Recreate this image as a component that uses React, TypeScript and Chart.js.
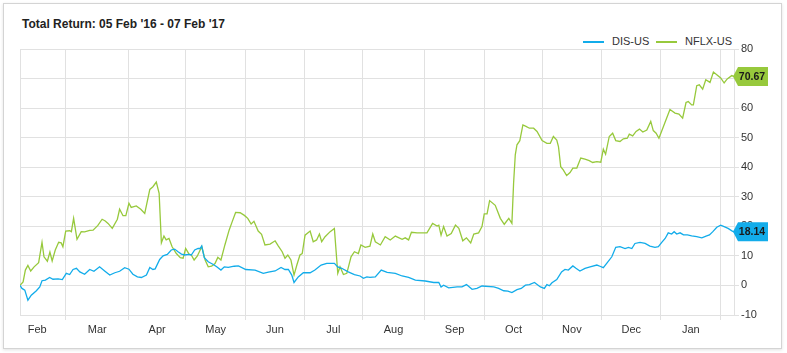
import React, { useEffect, useRef } from "react";
import { Chart, registerables } from "chart.js";

Chart.register(...registerables);

// ---- DATA (x = trading-day index from 05 Feb '16, y = total return %) ----
const SERIES_NAMES = ["DIS-US", "NFLX-US"];
const TITLE = "Total Return: 05 Feb '16 - 07 Feb '17";
const X_MAX = 253;
const MONTH_LABELS = ["Feb", "Mar", "Apr", "May", "Jun", "Jul", "Aug", "Sep", "Oct", "Nov", "Dec", "Jan"];
// month start positions (trading-day index); first one is Feb 1 '16 (before range), last one Feb 1 '17
const MONTH_STARTS = [-4, 16.2, 38.5, 58.7, 80.0, 100.7, 121.4, 143.3, 164.7, 185.0, 206.1, 227.1, 248.3];
const Y_MIN = -10;
const Y_MAX = 80;
const Y_STEP = 10;

const DIS: [number, number][] = [
  [0, 0], [0.7, -1], [1.7, -1.6], [2.8, -5], [4.0, -3.3], [5.8, -1.8], [7.0, -0.5], [7.8, 1.6], [9.0, 1.8],
  [10.5, 2.7], [11.7, 2.1], [13.5, 2.2], [15.0, 2], [16.4, 4.1], [17.6, 3.7], [18.8, 5.4], [20.0, 5.8],
  [21.2, 4.6], [22.9, 3.8], [24.7, 5.4], [26.2, 4.8], [28.2, 6.3], [30.0, 4.9], [31.8, 3.5], [33.6, 4.3],
  [35.3, 4.8], [37.1, 6], [38.6, 5.5], [40.0, 3.8], [41.6, 2.9], [43.0, 2.7], [44.8, 3.5], [46.0, 6.1],
  [47.1, 5.4], [47.9, 5.6], [49.5, 8.8], [50.7, 10], [52.2, 10.5], [53.6, 12], [54.8, 12.3], [56.0, 11.4],
  [57.2, 10.6], [58.4, 10.3], [59.8, 10.5], [60.7, 10.3], [61.9, 12], [63.1, 12.5], [63.8, 12.5], [64.4, 13.4],
  [65.3, 9.4], [66.7, 8], [68.5, 7.1], [69.7, 6.3], [71.2, 5.2], [72.4, 6.3], [73.8, 6.1], [75.9, 6.5],
  [77.4, 6.6], [80.0, 5.4], [83.3, 5.2], [86.2, 4.1], [88.0, 4.5], [90.4, 4.9], [92.5, 6.1], [93.9, 5.4],
  [95.1, 5.4], [96.3, 3.5], [97.1, 1], [98.6, 2.9], [100.4, 4.3], [102.8, 4.3], [104.5, 5.2], [106.7, 6.9],
  [108.7, 7.5], [111.4, 7.5], [112.6, 6.3], [114.0, 5.8], [116.3, 4.6], [118.5, 3.7], [120.5, 3.2],
  [121.7, 2.4], [122.9, 2.9], [124.0, 2.7], [125.9, 2.9], [128.0, 5.2], [130.1, 4.4], [133.0, 4.1],
  [135.4, 3.2], [137.7, 2.7], [140.1, 1.8], [143.6, 1.5], [146.6, 1], [148.4, 1], [149.2, -0.5], [150.1, 0.1],
  [151.9, -0.8], [154.9, -0.5], [156.6, -0.5], [158.2, 0.3], [160.2, -1.3], [161.9, -1], [163.7, -0.2],
  [167.9, -0.5], [169.6, -1], [171.4, -1.8], [172.9, -1.9], [174.3, -2.4], [176.1, -1.4], [177.6, -1],
  [179.1, 0.1], [180.5, 0.3], [182.3, 1], [184.4, -0.5], [185.8, -1], [186.7, 0.3], [187.6, -0.1],
  [188.5, 0.9], [190.2, 2], [191.9, 4.6], [193.1, 5.4], [194.3, 5.2], [195.9, 6.6], [197.0, 5.8],
  [198.4, 4.9], [200.2, 5.8], [202.0, 6.3], [204.4, 6.9], [205.5, 6.5], [206.7, 6], [208.1, 7.7],
  [209.7, 9.7], [211.1, 12.9], [212.6, 13.1], [214.4, 12.5], [215.6, 12.9], [216.8, 12.5], [217.9, 14.2],
  [219.7, 14.6], [221.5, 14.2], [223.2, 13.3], [225.0, 12.9], [226.2, 13.1], [227.4, 14.6], [228.6, 15.9],
  [229.7, 17.8], [230.9, 17.4], [231.8, 18.2], [232.7, 17.4], [233.9, 17.8], [235.1, 17.1], [236.5, 17.1],
  [238.0, 16.8], [239.8, 16.5], [241.6, 16.1], [243.1, 16.7], [244.3, 17.1], [245.5, 18.2], [246.9, 19.7],
  [248.3, 20.4], [249.5, 19.9], [250.9, 19.3], [252.4, 18.4], [253, 18.14],
];

const NFLX: [number, number][] = [
  [0, 0], [1.1, 1.2], [1.9, 5.2], [2.8, 6.8], [3.8, 4.9], [5.0, 6.3], [6.6, 7.7], [7.8, 14.6], [8.5, 9.7],
  [9.7, 8.2], [10.6, 11.3], [11.4, 8.3], [12.5, 12], [13.7, 14.6], [14.6, 14.4], [15.2, 13.1], [16.2, 18.4],
  [17.6, 18.5], [18.2, 18.2], [19.0, 22.7], [20.2, 15.6], [21.7, 18.2], [22.9, 18.1], [24.7, 18.6],
  [25.9, 18.7], [27.6, 20.3], [29.1, 22.4], [30.2, 21.8], [31.2, 21], [32.7, 19.3], [34.5, 22.4],
  [35.3, 25.8], [36.5, 23.6], [37.5, 23.6], [38.6, 27.8], [39.4, 26.4], [41.2, 26.9], [42.8, 25.8],
  [44.2, 24.4], [46.0, 32.5], [47.1, 33.4], [48.3, 35], [49.3, 31.2], [50.1, 14.4], [51.0, 16.7],
  [51.8, 15.4], [52.8, 15.9], [53.9, 13.1], [55.4, 10.8], [56.8, 9.4], [57.8, 9.2], [58.7, 12.5],
  [59.9, 10.6], [60.7, 10.3], [61.7, 8.6], [62.8, 9.9], [64.4, 13.1], [65.6, 8.6], [66.7, 6.3], [67.9, 6.5],
  [69.1, 7.4], [70.1, 9.5], [71.2, 8.6], [72.6, 13.7], [74.1, 18.7], [75.2, 21.6], [76.4, 24.7], [78.0, 24.6],
  [79.5, 23.7], [80.7, 22.7], [81.9, 20.8], [82.9, 21.7], [84.4, 18.4], [85.6, 17.3], [86.8, 13.7],
  [88.6, 14], [90.4, 15.1], [91.5, 13.4], [92.9, 11.4], [93.9, 9.2], [94.9, 10.3], [96.0, 8.6], [97.1, 3.5],
  [98.1, 6.9], [99.2, 10.3], [100.0, 10.8], [101.0, 17], [102.8, 18.4], [103.9, 14.8], [105.1, 15.4],
  [106.1, 17.4], [106.9, 14.8], [108.1, 16.5], [109.9, 18.2], [111.4, 19.3], [112.6, 4.1], [113.4, 6.3],
  [114.6, 3.7], [115.8, 4.1], [117.3, 9.7], [118.5, 11.4], [119.9, 10.8], [120.8, 13.7], [122.3, 12.9],
  [124.0, 13.3], [125.0, 17.4], [125.9, 14.8], [127.7, 13.7], [129.4, 16.5], [131.2, 15.4], [133.0, 16.7],
  [135.4, 15.6], [136.5, 16.1], [137.7, 15.4], [138.7, 18], [140.7, 17.8], [144.2, 17.8], [146.2, 21],
  [147.8, 20.1], [148.4, 20.4], [149.2, 17], [150.1, 19.9], [151.3, 16.7], [152.8, 17.6], [154.3, 20.4],
  [155.5, 19.3], [156.9, 15.1], [158.2, 16.1], [159.7, 14.4], [160.8, 17.4], [162.5, 17.8], [163.7, 19.9],
  [164.5, 24.2], [165.5, 24.2], [166.4, 28.7], [168.4, 27.1], [170.2, 22.7], [171.6, 20.7], [173.2, 22.7],
  [174.3, 21], [174.9, 34.6], [175.5, 44.2], [176.1, 47.6], [177.1, 49], [178.2, 54.3], [179.3, 53.8],
  [180.5, 53.2], [182.0, 53.2], [183.2, 52.1], [185.0, 49], [186.7, 48.1], [187.9, 48.1], [189.0, 50.4],
  [190.2, 49.2], [190.8, 47], [191.6, 40.2], [192.5, 39.1], [193.7, 37.2], [194.9, 38.2], [195.9, 39.7],
  [197.3, 39.7], [198.7, 43.1], [200.2, 42.7], [201.7, 42.2], [202.9, 41.6], [204.4, 41.9], [205.8, 41.7],
  [206.7, 46.1], [207.5, 44.4], [208.8, 50.4], [210.0, 51.5], [211.1, 49], [212.6, 48.7], [213.8, 49.6],
  [215.2, 49.8], [215.9, 51.2], [217.1, 50.6], [218.3, 52.1], [219.5, 52.9], [220.7, 51.9], [222.1, 52.6],
  [223.5, 55.5], [224.4, 52.4], [225.4, 51.5], [226.4, 49.8], [228.0, 53.8], [230.3, 59.5], [232.1, 58.3],
  [233.5, 58], [234.8, 56.6], [236.0, 61.9], [236.8, 62.2], [238.0, 61.1], [238.6, 61.1], [239.8, 67.6],
  [240.7, 67.9], [241.9, 66.4], [243.0, 69.6], [244.5, 68.7], [245.7, 72.2], [246.9, 71.3], [248.3, 70.2],
  [249.5, 68.5], [250.6, 69.9], [252.2, 71], [253, 70.67],
];

// ---- STYLE ----
const COLORS = ["#12acea", "#97c93c"];
const GRID = "#e1e1e1";
const FONT = "'Liberation Sans', Arial, sans-serif";

const monthMids = MONTH_LABELS.map((_, i) => (MONTH_STARTS[i] + MONTH_STARTS[i + 1]) / 2);
const gridTicks = [0, ...MONTH_STARTS.filter((v) => v > 0 && v < X_MAX)];

const flagPlugin = {
  id: "lastValueFlags",
  afterDatasetsDraw(chart: any) {
    const { ctx, chartArea, scales } = chart;
    chart.data.datasets.forEach((ds: any, i: number) => {
      const last = ds.data[ds.data.length - 1];
      const y = scales.y.getPixelForValue(last.y);
      const x = chartArea.right;
      const h = 19;
      const w = 34;
      ctx.save();
      ctx.fillStyle = COLORS[i];
      ctx.beginPath();
      ctx.moveTo(x - 1, y);
      ctx.lineTo(x + 4, y - h / 2);
      ctx.lineTo(x + w, y - h / 2);
      ctx.lineTo(x + w, y + h / 2);
      ctx.lineTo(x + 4, y + h / 2);
      ctx.closePath();
      ctx.fill();
      ctx.fillStyle = "#1a1a1a";
      ctx.font = `bold 10.5px ${FONT}`;
      ctx.textAlign = "center";
      ctx.textBaseline = "middle";
      ctx.fillText(last.y.toFixed(2), x + 18, y + 0.5);
      ctx.restore();
    });
  },
};

export default function App() {
  const canvasRef = useRef<HTMLCanvasElement | null>(null);

  useEffect(() => {
    if (!canvasRef.current) return;
    const isGrid = (v: number) => gridTicks.some((g) => Math.abs(g - v) < 1e-6);
    const chart = new Chart(canvasRef.current, {
      type: "line",
      data: {
        datasets: [DIS, NFLX].map((series, i) => ({
          label: SERIES_NAMES[i],
          data: series.map(([x, y]) => ({ x, y })),
          borderColor: COLORS[i],
          backgroundColor: COLORS[i],
          borderWidth: 1.3,
          pointRadius: 0,
          tension: 0,
          fill: false,
        })),
      },
      options: {
        animation: false,
        responsive: false,
        layout: { padding: { left: 20, top: 49, right: 0, bottom: 0 } },
        plugins: { legend: { display: false }, title: { display: false }, tooltip: { enabled: false } },
        scales: {
          x: {
            type: "linear",
            min: 0,
            max: X_MAX,
            afterBuildTicks: (scale: any) => {
              scale.ticks = [...gridTicks, ...monthMids].sort((a, b) => a - b).map((v) => ({ value: v }));
            },
            afterFit: (scale: any) => {
              scale.height = 38;
            },
            ticks: {
              autoSkip: false,
              maxRotation: 0,
              padding: 3,
              color: "#333",
              font: { family: FONT, size: 11 },
              callback: (value: any) => {
                const idx = monthMids.findIndex((m) => Math.abs(m - Number(value)) < 1e-6);
                return idx >= 0 ? MONTH_LABELS[idx] : "";
              },
            },
            grid: {
              color: (ctx: any) => (ctx.tick && isGrid(ctx.tick.value) ? GRID : "rgba(0,0,0,0)"),
              tickColor: (ctx: any) =>
                ctx.tick && isGrid(ctx.tick.value) && ctx.tick.value > 0 ? GRID : "rgba(0,0,0,0)",
              tickLength: 5,
              lineWidth: 1,
            },
            border: { display: true, color: GRID },
          },
          y: {
            position: "right",
            min: Y_MIN,
            max: Y_MAX,
            afterFit: (scale: any) => {
              scale.width = 53;
            },
            ticks: {
              stepSize: Y_STEP,
              padding: 2,
              color: "#333",
              font: { family: FONT, size: 11 },
            },
            grid: { color: GRID, tickColor: GRID, tickLength: 5, lineWidth: 1 },
            border: { display: true, color: GRID },
          },
        },
      },
      plugins: [flagPlugin],
    } as any);
    return () => chart.destroy();
  }, []);

  return (
    <div style={{ position: "absolute", left: 0, top: 0, width: 787, height: 353, background: "#fff", fontFamily: FONT }}>
      <div
        style={{
          position: "absolute",
          left: 3,
          top: 3,
          width: 777,
          height: 344,
          border: "1px solid #d4d4d4",
          boxShadow: "0 1px 3px rgba(0,0,0,0.12)",
          background: "#fff",
        }}
      />
      <div
        style={{
          position: "absolute",
          left: 22,
          top: 17,
          fontSize: 12,
          lineHeight: "14px",
          fontWeight: "bold",
          color: "#222",
          whiteSpace: "nowrap",
        }}
      >
        {TITLE}
      </div>
      {SERIES_NAMES.map((name, i) => (
        <div
          key={name}
          style={{
            position: "absolute",
            left: i === 0 ? 583 : 656,
            top: 35,
            height: 13,
            display: "flex",
            alignItems: "center",
            whiteSpace: "nowrap",
          }}
        >
          <span style={{ display: "inline-block", width: 21, height: 2, background: COLORS[i], marginRight: 8 }} />
          <span style={{ fontSize: 11, lineHeight: "13px", color: "#333" }}>{name}</span>
        </div>
      ))}
      <canvas ref={canvasRef} width={787} height={353} style={{ position: "absolute", left: 0, top: 0 }} />
    </div>
  );
}
